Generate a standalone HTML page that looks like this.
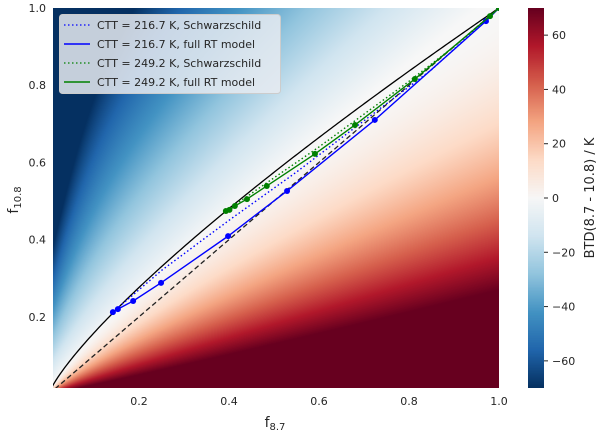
<!DOCTYPE html>
<html><head><meta charset="utf-8"><style>
body{margin:0;background:#fff;font-family:"Liberation Sans","DejaVu Sans",sans-serif;}
svg text{font-family:"DejaVu Sans","Liberation Sans",sans-serif;}
</style></head><body>
<div style="position:relative;width:600px;height:434px">
<canvas id="hm" width="446" height="380" style="position:absolute;left:53px;top:8px"></canvas>
<canvas id="cb" width="16" height="380" style="position:absolute;left:528px;top:8px"></canvas>
<svg id="ov" width="600" height="434" style="position:absolute;left:0;top:0"></svg>
</div>
<script>
const blueRTx=[0.142,0.153,0.187,0.249,0.398,0.529,0.724,0.971,1.0];
const blueRTy=[0.212,0.220,0.241,0.288,0.409,0.526,0.710,0.966,1.0];
const blueSx=[0.142,0.25,0.4,0.55,0.7,0.85,1.0];
const blueSy=[0.212,0.32,0.45,0.575,0.708,0.84,1.0];
const greenRTx=[0.393,0.401,0.413,0.44,0.484,0.591,0.68,0.813,0.98,1.0];
const greenRTy=[0.474,0.477,0.487,0.505,0.539,0.622,0.697,0.816,0.979,1.0];
const greenSx=[0.393,0.5,0.6,0.7,0.8,0.9,1.0];
const greenSy=[0.474,0.56,0.64,0.725,0.81,0.9,1.0];
const xTicks=[0.2,0.4,0.6,0.8,1.0];
const yTicks=[0.2,0.4,0.6,0.8,1.0];
const cbTicks=[-60,-40,-20,0,20,40,60];

const X0=49,XS=450,Y0=394,YS=386;
const sx=v=>X0+v*XS, sy=v=>Y0-v*YS;
const cmap=["#053061","#2166ac","#4393c3","#92c5de","#d1e5f0","#f7f7f7","#fddbc7","#f4a582","#d6604d","#b2182b","#67001f"].map(h=>[parseInt(h.substr(1,2),16),parseInt(h.substr(3,2),16),parseInt(h.substr(5,2),16)]);
function col(t){t=Math.max(0,Math.min(1,t))*10;let i=Math.min(9,Math.floor(t)),f=t-i;return cmap[i].map((c,k)=>c+(cmap[i+1][k]-c)*f);}
const c2=14388,Ts=290,Tc=220;
function B(l,T){return 1/(Math.exp(c2/(l*T))-1);}
function Tb(l,I){return c2/(l*Math.log(1+1/I));}
(function(){const cv=document.getElementById('hm'),ctx=cv.getContext('2d'),im=ctx.createImageData(446,380);
for(let j=0;j<380;j++)for(let i=0;i<446;i++){const x=(53+i+0.5-X0)/XS,y=(Y0-(8+j+0.5))/YS;
const I1=x*B(8.7,Ts)+(1-x)*B(8.7,Tc),I2=y*B(10.8,Ts)+(1-y)*B(10.8,Tc);
let d=(Tb(8.7,I1)-Tb(10.8,I2)+2)*(1.5+0.9*Math.exp(-x/0.05));
const r=y/Math.pow(x,1.1),rz=Math.pow(x,-0.3);
let v;
if(r<rz){let u=Math.min(1,(rz-r)/(rz-0.24));v=75*Math.pow(u,1.8);}
else v=Math.min(0,d);
const c=col((v+70)/140);const p=(j*446+i)*4;im.data[p]=c[0];im.data[p+1]=c[1];im.data[p+2]=c[2];im.data[p+3]=255;}
ctx.putImageData(im,0,0);
const cb=document.getElementById('cb').getContext('2d');for(let j=0;j<380;j++){const c=col(1-(j+0.5)/380);cb.fillStyle=`rgb(${c[0]|0},${c[1]|0},${c[2]|0})`;cb.fillRect(0,j,16,1);}})();
const NS='http://www.w3.org/2000/svg',ov=document.getElementById('ov');
function mk(t,a,p){const e=document.createElementNS(NS,t);for(const k in a)e.setAttribute(k,a[k]);(p||ov).appendChild(e);return e;}
const clip=mk('clipPath',{id:'cl'});mk('rect',{x:53,y:8,width:446,height:380},clip);
const g=mk('g',{'clip-path':'url(#cl)'});


let pts=[];for(let k=0;k<=200;k++){const x=0.005+k*(0.995/200);pts.push(sx(x)+','+sy(Math.pow(x,0.8)));}
let e=mk('polyline',{points:pts.join(' '),fill:'none',stroke:'#000','stroke-width':1.3},g);


e=mk('line',{x1:sx(0),y1:sy(0),x2:sx(1),y2:sy(1),stroke:'#222','stroke-width':1.3,'stroke-dasharray':'5,3'},g);


function series(xs,ys,color,dot,markers,name){const p=xs.map((x,i)=>sx(x)+','+sy(ys[i])).join(' ');
const l=mk('polyline',{points:p,fill:'none',stroke:color,'stroke-width':1.4,'stroke-dasharray':dot?'1.5,2.5':'none'},g);


if(markers)xs.forEach((x,i)=>{const c=mk('circle',{cx:sx(x),cy:sy(ys[i]),r:3,fill:color},g);

});}
series(blueSx,blueSy,'#0000ff',true,false,'blue-schwarzschild-line');
series(greenSx,greenSy,'#008000',true,false,'green-schwarzschild-line');
series(blueRTx,blueRTy,'#0000ff',false,true,'blue-full-rt-line');
series(greenRTx,greenRTy,'#008000',false,true,'green-full-rt-line');
xTicks.forEach(v=>{const t=mk('text',{x:sx(v),y:405,'font-size':11,fill:'#262626','text-anchor':'middle'});t.textContent=v.toFixed(1);

});
yTicks.forEach(v=>{const t=mk('text',{x:46,y:sy(v)+4,'font-size':11,fill:'#262626','text-anchor':'end'});t.textContent=v.toFixed(1);

});
const cbY=v=>8+(70-v)/140*380;
cbTicks.forEach(v=>{mk('line',{x1:544,x2:548,y1:cbY(v),y2:cbY(v),stroke:'#262626','stroke-width':1});
const t=mk('text',{x:552,y:cbY(v)+4,'font-size':11,fill:'#262626'});t.textContent=v<0?'\u2212'+(-v):v;

});
</script>
<svg width="600" height="434" style="position:absolute;left:0;top:0;pointer-events:none">
<text x="275" y="427" font-size="14" fill="#262626" text-anchor="middle">f<tspan font-size="10" dy="3">8.7</tspan></text>
<text transform="translate(18,200) rotate(-90)" font-size="14" fill="#262626" text-anchor="middle">f<tspan font-size="10" dy="3">10.8</tspan></text>
<text transform="translate(594,198) rotate(-90)" font-size="13" fill="#262626" text-anchor="middle">BTD(8.7 - 10.8) / K</text>
<g>
<rect x="59.5" y="14.5" width="221" height="79" rx="3" fill="#e8ebf1" fill-opacity="0.85" stroke="#cccccc"/>
<line x1="64" x2="90" y1="25" y2="25" stroke="#0000ff" stroke-width="1.3" stroke-dasharray="1.5,2.5"/>
<text x="97" y="29" font-size="11" fill="#262626">CTT = 216.7 K, Schwarzschild</text>
<line x1="64" x2="90" y1="44" y2="44" stroke="#0000ff" stroke-width="1.5"/>
<text x="97" y="48" font-size="11" fill="#262626">CTT = 216.7 K, full RT model</text>
<line x1="64" x2="90" y1="63" y2="63" stroke="#008000" stroke-width="1.3" stroke-dasharray="1.5,2.5"/>
<text x="97" y="67" font-size="11" fill="#262626">CTT = 249.2 K, Schwarzschild</text>
<line x1="64" x2="90" y1="82" y2="82" stroke="#008000" stroke-width="1.5"/>
<text x="97" y="86" font-size="11" fill="#262626">CTT = 249.2 K, full RT model</text>
</g>
</svg>
</body></html>
